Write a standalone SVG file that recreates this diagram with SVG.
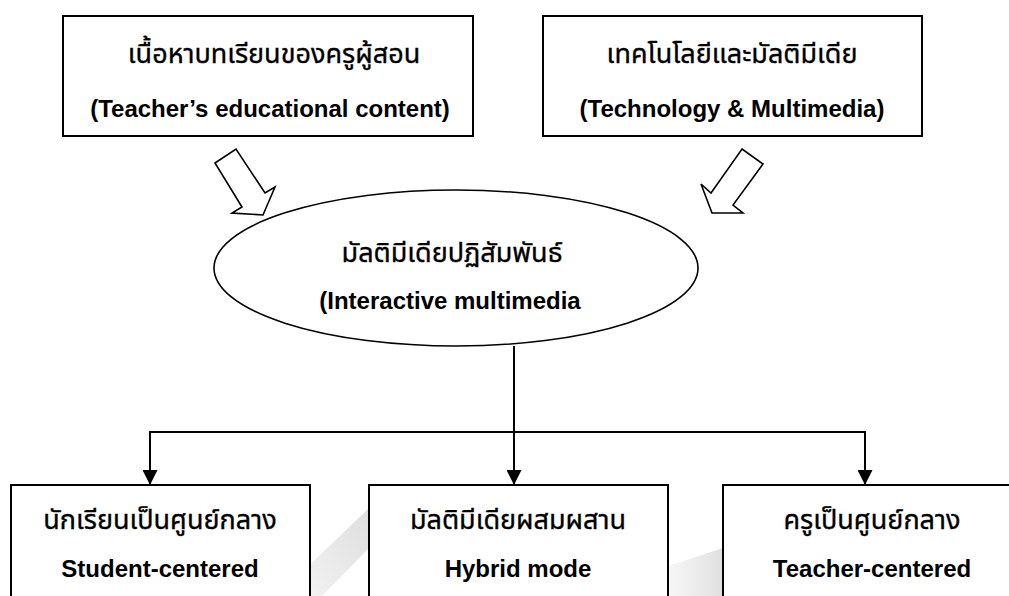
<svg xmlns="http://www.w3.org/2000/svg" width="1009" height="596" viewBox="0 0 1009 596">
<defs>
<style>
.box{fill:#fff;stroke:#000;stroke-width:2}
.th{font-family:"Noto Sans Thai","Noto Sans","DejaVu Sans",sans-serif;font-size:27px;fill:#000;stroke:#000;stroke-width:0.35;text-anchor:middle}
.en{font-family:"Liberation Sans",Arial,sans-serif;font-size:24px;font-weight:bold;fill:#000;text-anchor:middle}
.blk{fill:#fff;stroke:#000;stroke-width:1.6;stroke-linejoin:miter}
.conn{fill:none;stroke:#000;stroke-width:2}
</style>
<marker id="ah" viewBox="0 0 10 10" refX="10" refY="5" markerWidth="7.5" markerHeight="7.5" markerUnits="strokeWidth" orient="auto">
<path d="M0,0 L10,5 L0,10 z" fill="#000"/>
</marker>
<linearGradient id="wm1" x1="1" y1="0" x2="0" y2="1">
<stop offset="0" stop-color="#dedede"/>
<stop offset="1" stop-color="#f4f4f4"/>
</linearGradient>
<linearGradient id="wm2" x1="1" y1="0" x2="0" y2="0">
<stop offset="0" stop-color="#e0e0e0"/>
<stop offset="1" stop-color="#f7f7f7"/>
</linearGradient>
</defs>
<rect width="1009" height="596" fill="#fff"/>
<g id="watermark">
<polygon points="369,508 369,548 322,596 296,596 296,578" fill="url(#wm1)"/>
<polygon points="668,566 723,548 723,596 668,596" fill="url(#wm2)"/>
</g>
<g id="connectors">
<polygon class="blk" points="215,163 236,149 265,193 275,187 263,215 232,213 242,207"/>
<polygon class="blk" points="742,149 763,164 733,205 743,213 712,213 701,184 711,193"/>
<line class="conn" x1="514" y1="346" x2="514" y2="432"/>
<line class="conn" x1="150" y1="432" x2="865" y2="432"/>
<line class="conn" x1="150" y1="431" x2="150" y2="485" marker-end="url(#ah)"/>
<line class="conn" x1="514" y1="432" x2="514" y2="485" marker-end="url(#ah)"/>
<line class="conn" x1="865" y1="431" x2="865" y2="485" marker-end="url(#ah)"/>
</g>
<g id="teacher-content">
<rect class="box" x="63" y="16" width="410" height="120"/>
<text class="th" x="274" y="63">เนื้อหาบทเรียนของครูผู้สอน</text>
<text class="en" x="270" y="117">(Teacher’s educational content)</text>
</g>
<g id="tech-multimedia">
<rect class="box" x="543" y="16" width="379" height="120"/>
<text class="th" x="732" y="63">เทคโนโลยีและมัลติมีเดีย</text>
<text class="en" x="732" y="117">(Technology &amp; Multimedia)</text>
</g>
<g id="interactive-multimedia">
<ellipse cx="456" cy="268" rx="242" ry="78" fill="#fff" stroke="#000" stroke-width="1.6"/>
<text class="th" x="452" y="262">มัลติมีเดียปฏิสัมพันธ์</text>
<text class="en" x="450" y="309">(Interactive multimedia</text>
</g>
<g id="student-centered">
<rect class="box" x="11" y="485" width="299" height="140"/>
<text class="th" x="160" y="529">นักเรียนเป็นศูนย์กลาง</text>
<text class="en" x="160" y="577">Student-centered</text>
</g>
<g id="hybrid-mode">
<rect class="box" x="369" y="485" width="299" height="140"/>
<text class="th" x="518" y="529">มัลติมีเดียผสมผสาน</text>
<text class="en" x="518" y="577">Hybrid mode</text>
</g>
<g id="teacher-centered">
<rect class="box" x="723" y="485" width="299" height="140"/>
<text class="th" x="872" y="529">ครูเป็นศูนย์กลาง</text>
<text class="en" x="872" y="577">Teacher-centered</text>
</g>
</svg>
